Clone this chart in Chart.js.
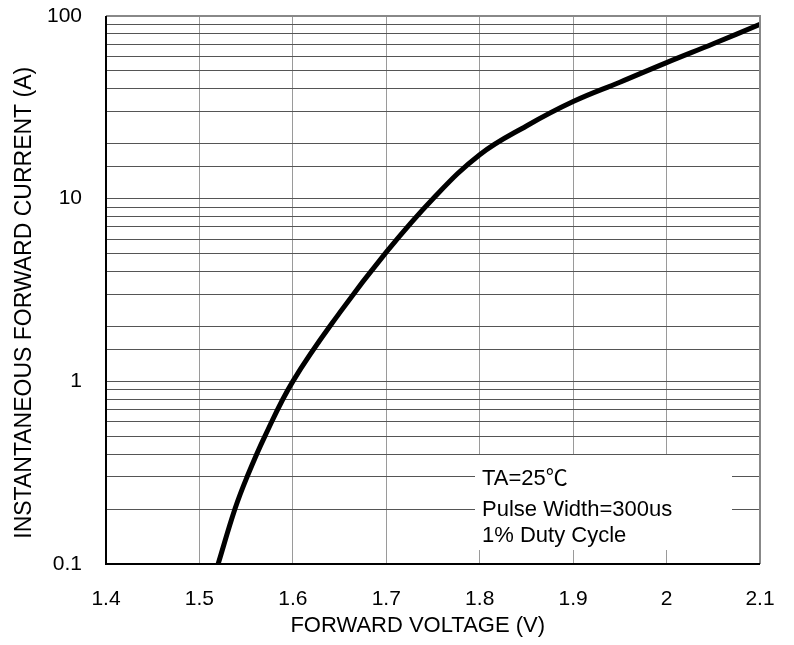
<!DOCTYPE html>
<html>
<head>
<meta charset="utf-8">
<script src="https://cdn.jsdelivr.net/npm/chart.js@4.4.1/dist/chart.umd.min.js"></script>
<style>
  html, body { margin: 0; padding: 0; background: #fff; }
  #wrap { width: 794px; height: 645px; }
</style>
</head>
<body>
<div id="wrap"><canvas id="vfchart"></canvas></div>
<script>
// forward voltage (V) vs instantaneous forward current (A)
const voltage = [1.52, 1.538, 1.551, 1.570, 1.600, 1.650, 1.700, 1.750, 1.800, 1.850, 1.900, 1.950, 2.000, 2.050, 2.100];
const current = [0.1, 0.2, 0.3, 0.5, 1.0, 2.37, 5.1, 10.0, 17.4, 25, 34, 43.4, 55.6, 70.5, 90];

const xTicks = [1.4, 1.5, 1.6, 1.7, 1.8, 1.9, 2.0, 2.1];
const yLabels = ['0.1', '1', '10', '100'];
const noteLines = ['TA=25\u2103', 'Pulse Width=300us', '1% Duty Cycle'];

const FONT = "'Liberation Sans', Arial, 'Noto Sans CJK SC', sans-serif";

function isDecade(v) {
  const l = Math.log10(v);
  return Math.abs(l - Math.round(l)) < 1e-9;
}

// frame on top/right plus the condition box in the lower right
const framePlugin = {
  id: 'frame',
  beforeDatasetsDraw(chart) {
    const { ctx, chartArea: a } = chart;
    ctx.save();
    // white box behind the note, covering grid lines
    ctx.fillStyle = '#fff';
    ctx.fillRect(a.left + 369, a.top + 439, 257, 95);
    ctx.fillStyle = '#000';
    ctx.font = '22px ' + FONT;
    ctx.textBaseline = 'middle';
    ctx.textAlign = 'left';
    const offs = [463, 494, 520];
    noteLines.forEach((t, i) => {
      ctx.fillText(t, a.left + 376, a.top + offs[i]);
    });
    ctx.restore();
  },
  afterDraw(chart) {
    const { ctx, chartArea: a } = chart;
    ctx.save();
    ctx.strokeStyle = '#888';
    ctx.lineWidth = 2;
    ctx.beginPath();
    ctx.moveTo(a.left, a.top);
    ctx.lineTo(a.right, a.top);
    ctx.lineTo(a.right, a.bottom);
    ctx.stroke();
    ctx.strokeStyle = '#000';
    ctx.beginPath();
    ctx.moveTo(a.left, a.top);
    ctx.lineTo(a.left, a.bottom);
    ctx.lineTo(a.right, a.bottom);
    ctx.stroke();
    ctx.restore();
  }
};

const points = voltage.map((v, i) => ({ x: v, y: current[i] }));

new Chart(document.getElementById('vfchart'), {
  type: 'line',
  data: {
    datasets: [{
      data: points,
      borderColor: '#000',
      borderWidth: 5,
      pointRadius: 0,
      tension: 0.4,
      fill: false,
    }],
  },
  options: {
    responsive: true,
    maintainAspectRatio: false,
    animation: false,
    layout: { padding: { top: 16, right: 34, left: 0, bottom: 0 } },
    plugins: {
      legend: { display: false },
      tooltip: { enabled: false },
    },
    scales: {
      x: {
        type: 'linear',
        min: 1.4,
        max: 2.1,
        afterBuildTicks: (scale) => { scale.ticks = xTicks.map(v => ({ value: v })); },
        afterFit: (scale) => {
          scale.height = 81;
          scale.paddingLeft = 0;
          scale.paddingRight = 0;
        },
        border: { display: false },
        grid: { color: '#9a9a9a', lineWidth: 1, drawTicks: false },
        ticks: {
          padding: 23,
          color: '#000',
          font: { family: FONT, size: 21 },
          maxRotation: 0,
          callback: (v) => parseFloat(v.toFixed(1)).toString(),
        },
        title: {
          display: true,
          text: 'FORWARD VOLTAGE (V)     ',
          color: '#000',
          font: { family: FONT, size: 22 },
          padding: { top: 0, bottom: 6 },
        },
      },
      y: {
        type: 'logarithmic',
        min: 0.1,
        max: 100,
        afterFit: (scale) => {
          scale.width = 106;
          scale.paddingTop = 0;
          scale.paddingBottom = 0;
        },
        border: { display: false },
        grid: { color: '#555', lineWidth: 1, drawTicks: false },
        ticks: {
          padding: 24,
          color: '#000',
          font: { family: FONT, size: 21 },
          autoSkip: false,
          callback: (v) => {
            if (!isDecade(v)) return '';
            const i = Math.round(Math.log10(v)) + 1;
            return yLabels[i];
          },
        },
        title: {
          display: true,
          text: 'INSTANTANEOUS FORWARD CURRENT (A)    ',
          color: '#000',
          font: { family: FONT, size: 23 },
          padding: { top: 11, bottom: 0 },
        },
      },
    },
  },
  plugins: [framePlugin],
});
</script>
</body>
</html>
